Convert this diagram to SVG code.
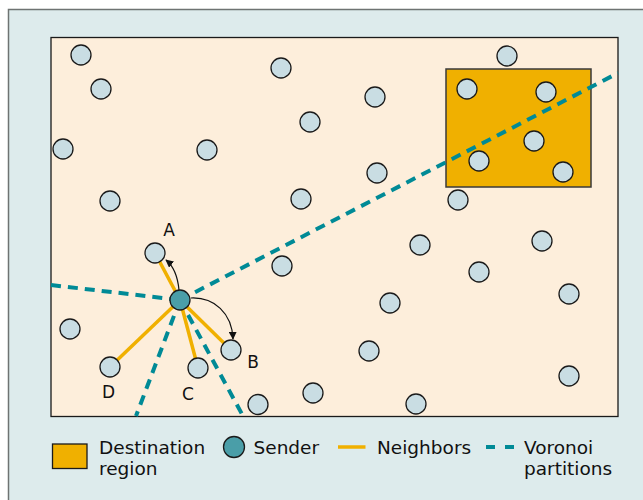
<svg xmlns="http://www.w3.org/2000/svg" width="643" height="500" viewBox="0 0 643 500">
<defs>
<style>
.node{fill:#C9DDE3;stroke:#1a1a1a;stroke-width:1.3}
.sender{fill:#4A9EA8;stroke:#1a1a1a;stroke-width:1.3}
.nb{stroke:#F0B000;stroke-width:3.5;fill:none}
.vor{stroke:#008A96;stroke-width:4;stroke-dasharray:10 7;fill:none}
.arr{stroke:#111;stroke-width:1.2;fill:none;marker-end:url(#ah)}
text{font-family:"DejaVu Sans","Liberation Sans",sans-serif;fill:#111}
.lbl{font-size:17px}
.leg{font-size:18.5px}
</style>
<marker id="ah" viewBox="0 0 10 10" refX="9" refY="5" markerWidth="8" markerHeight="8" orient="auto" markerUnits="userSpaceOnUse">
<path d="M0,0 L10,5 L0,10 z" fill="#111"/>
</marker>
</defs>
<rect x="0" y="0" width="643" height="500" fill="#ffffff"/>
<rect x="8.5" y="9.5" width="640" height="500" fill="#DDEBEC" stroke="#6E7372" stroke-width="1.5"/>
<rect id="field" x="51" y="37.5" width="567" height="379" fill="#FDEEDB" stroke="#1a1a1a" stroke-width="1.3"/>
<g id="destination-region"><rect x="446" y="69" width="145" height="118" fill="#F0B000" stroke="#3a3a3a" stroke-width="1.5"/></g>
<g id="connectors">
<line class="vor" x1="180" y1="300" x2="618" y2="73"/>
<line class="vor" x1="51" y1="285" x2="180" y2="300"/>
<line class="vor" x1="180" y1="300" x2="136" y2="416"/>
<line class="vor" x1="180" y1="300" x2="243" y2="416"/>
<line class="nb" x1="180" y1="300" x2="155" y2="253"/>
<line class="nb" x1="180" y1="300" x2="231" y2="350"/>
<line class="nb" x1="180" y1="300" x2="198" y2="368"/>
<line class="nb" x1="180" y1="300" x2="110" y2="367"/>
<path class="arr" d="M179,290 Q177,269 166,260"/>
<path class="arr" d="M191,298 C214,297 232,313 233,339"/>
</g>
<g id="nodes">
<g id="n1"><circle class="node" cx="81" cy="55" r="10"/></g>
<g id="n2"><circle class="node" cx="101" cy="89" r="10"/></g>
<g id="n3"><circle class="node" cx="281" cy="68" r="10"/></g>
<g id="n4"><circle class="node" cx="507" cy="56" r="10"/></g>
<g id="n5"><circle class="node" cx="375" cy="97" r="10"/></g>
<g id="n6"><circle class="node" cx="310" cy="122" r="10"/></g>
<g id="n7"><circle class="node" cx="63" cy="149" r="10"/></g>
<g id="n8"><circle class="node" cx="207" cy="150" r="10"/></g>
<g id="n9"><circle class="node" cx="467" cy="89" r="10"/></g>
<g id="n10"><circle class="node" cx="546" cy="92" r="10"/></g>
<g id="n11"><circle class="node" cx="534" cy="141" r="10"/></g>
<g id="n12"><circle class="node" cx="479" cy="161" r="10"/></g>
<g id="n13"><circle class="node" cx="563" cy="172" r="10"/></g>
<g id="n14"><circle class="node" cx="377" cy="173" r="10"/></g>
<g id="n15"><circle class="node" cx="110" cy="201" r="10"/></g>
<g id="n16"><circle class="node" cx="301" cy="199" r="10"/></g>
<g id="n17"><circle class="node" cx="458" cy="200" r="10"/></g>
<g id="n18"><circle class="node" cx="420" cy="245" r="10"/></g>
<g id="n19"><circle class="node" cx="542" cy="241" r="10"/></g>
<g id="n20"><circle class="node" cx="282" cy="266" r="10"/></g>
<g id="n21"><circle class="node" cx="479" cy="272" r="10"/></g>
<g id="n22"><circle class="node" cx="569" cy="294" r="10"/></g>
<g id="n23"><circle class="node" cx="390" cy="303" r="10"/></g>
<g id="n24"><circle class="node" cx="70" cy="329" r="10"/></g>
<g id="n25"><circle class="node" cx="369" cy="351" r="10"/></g>
<g id="n26"><circle class="node" cx="569" cy="376" r="10"/></g>
<g id="n27"><circle class="node" cx="313" cy="393" r="10"/></g>
<g id="n28"><circle class="node" cx="258" cy="404.5" r="10"/></g>
<g id="n29"><circle class="node" cx="416" cy="404" r="10"/></g>
<g id="nodeA"><circle class="node" cx="155" cy="253" r="10"/><text class="lbl" x="169" y="236" text-anchor="middle">A</text></g>
<g id="nodeB"><circle class="node" cx="231" cy="350" r="10"/><text class="lbl" x="253" y="368" text-anchor="middle">B</text></g>
<g id="nodeC"><circle class="node" cx="198" cy="368" r="10"/><text class="lbl" x="188" y="400" text-anchor="middle">C</text></g>
<g id="nodeD"><circle class="node" cx="110" cy="367" r="10"/><text class="lbl" x="108.5" y="398" text-anchor="middle">D</text></g>
<g id="sender"><circle class="sender" cx="180" cy="300" r="10"/></g>
</g>
<g id="legend">
<g id="leg-dest"><rect x="52.5" y="444" width="34.5" height="24.5" fill="#F0B000" stroke="#1a1a1a" stroke-width="1.3"/>
<text class="leg" x="99" y="454">Destination</text><text class="leg" x="99" y="474.5">region</text></g>
<g id="leg-sender"><circle class="sender" cx="234" cy="447" r="10.5"/><text class="leg" x="253.5" y="454">Sender</text></g>
<g id="leg-nb"><line class="nb" x1="338" y1="447" x2="365.5" y2="447"/><text class="leg" x="377" y="454">Neighbors</text></g>
<g id="leg-vor"><line x1="486" y1="447" x2="514" y2="447" stroke="#008A96" stroke-width="4" stroke-dasharray="9 10"/>
<text class="leg" x="524" y="454">Voronoi</text><text class="leg" x="524" y="474.5">partitions</text></g>
</g>
</svg>
